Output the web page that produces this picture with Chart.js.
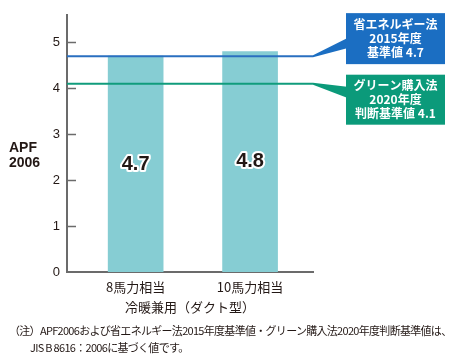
<!DOCTYPE html>
<html>
<head>
<meta charset="utf-8">
<script src="https://cdn.jsdelivr.net/npm/chart.js@4"></script>
<style>
  body { margin: 0; background: #fff; }
  #wrap { position: relative; width: 453px; height: 362px; font-family: "Liberation Sans", "Noto Sans CJK JP", sans-serif; color: #231815; }
  #chart { position: absolute; left: 0; top: 0; }
  #ylabel { position: absolute; left: 9px; top: 140px; font-size: 14px; font-weight: bold; line-height: 15px; }
  .note { position: absolute; font-size: 11px; white-space: nowrap; letter-spacing: -0.7px; font-family: "Noto Sans CJK JP", sans-serif; }
</style>
</head>
<body>
<div id="wrap">
  <canvas id="chart" width="453" height="362"></canvas>
  <div id="ylabel">APF<br>2006</div>
  <div class="note" style="left:9px; top:322px;">（注）APF2006および省エネルギー法2015年度基準値・グリーン購入法2020年度判断基準値は、</div>
  <div class="note" style="left:30px; top:339px;">JIS B 8616：2006に基づく値です。</div>
</div>
<script>
const categories = ['8馬力相当', '10馬力相当'];
const categoryPos = [1, 2];
const apfValues = [4.7, 4.8];
const yTicks = [0, 1, 2, 3, 4, 5];
const refNames = [['省エネルギー法', '2015年度', '基準値 4.7'], ['グリーン購入法', '2020年度', '判断基準値 4.1']];
const refValues = [4.7, 4.1];

const axisColor = '#6b6b6b';
const refColors = ['#2a6fc0', '#109c7c'];
const boxColors = ['#1b6ec2', '#0b9a7a'];
// box offsets from the line (top, bottom) and wedge ends at box edge
const boxOffsets = [[-43, 8], [-9, 41]];
const wedgeOffsets = [[-18, -8], [3, 14]];

const overlay = {
  id: 'overlay',
  afterDatasetsDraw(chart) {
    const ctx = chart.ctx;
    const y = chart.scales.y;
    const area = chart.chartArea;

    // tick marks inside the axis
    ctx.save();
    ctx.strokeStyle = axisColor;
    ctx.lineWidth = 1.5;
    yTicks.forEach(t => {
      if (t === 0) return;
      const py = Math.round(y.getPixelForValue(t)) + 0.5;
      ctx.beginPath();
      ctx.moveTo(area.left, py);
      ctx.lineTo(area.left + 9, py);
      ctx.stroke();
    });

    // bar value labels
    const meta = chart.getDatasetMeta(0);
    ctx.font = 'bold 20px "Liberation Sans", sans-serif';
    ctx.textAlign = 'center';
    ctx.textBaseline = 'middle';
    ctx.lineJoin = 'round';
    meta.data.forEach((bar, i) => {
      const cy = (bar.y + bar.base) / 2;
      const txt = apfValues[i].toFixed(1);
      ctx.lineWidth = 4;
      ctx.strokeStyle = '#ffffff';
      ctx.strokeText(txt, bar.x, cy);
      ctx.fillStyle = '#231815';
      ctx.fillText(txt, bar.x, cy);
    });

    // reference lines with callouts
    const boxLeft = 346, boxRight = 445;
    refValues.forEach((v, i) => {
      const py = y.getPixelForValue(v);
      ctx.strokeStyle = refColors[i];
      ctx.lineWidth = 2;
      ctx.beginPath();
      ctx.moveTo(area.left, py);
      ctx.lineTo(area.right, py);
      ctx.stroke();

      ctx.fillStyle = boxColors[i];
      ctx.beginPath();
      ctx.moveTo(area.right, py - 1);
      ctx.lineTo(boxLeft + 1, py + wedgeOffsets[i][0]);
      ctx.lineTo(boxLeft + 1, py + wedgeOffsets[i][1]);
      ctx.lineTo(area.right, py + 1);
      ctx.closePath();
      ctx.fill();

      const top = py + boxOffsets[i][0];
      const bottom = py + boxOffsets[i][1];
      ctx.fillRect(boxLeft, top, boxRight - boxLeft, bottom - top);

      ctx.fillStyle = '#ffffff';
      ctx.font = 'bold 12px "Noto Sans CJK JP", sans-serif';
      const cx = (boxLeft + boxRight) / 2;
      const cy = (top + bottom) / 2;
      refNames[i].forEach((line, k) => {
        ctx.fillText(line, cx, cy + (k - 1) * 14);
      });
    });
    ctx.restore();
  }
};

new Chart(document.getElementById('chart'), {
  type: 'bar',
  data: {
    datasets: [{
      data: categoryPos.map((x, i) => ({ x: x, y: apfValues[i] })),
      backgroundColor: '#86cdd3',
      barThickness: 55
    }]
  },
  options: {
    responsive: false,
    animation: false,
    layout: { padding: { left: 0, right: 140, top: 13, bottom: 47 } },
    plugins: { legend: { display: false }, tooltip: { enabled: false } },
    scales: {
      x: {
        type: 'linear',
        min: 0.4,
        max: 2.55,
        offset: false,
        afterBuildTicks: s => { s.ticks = categoryPos.map(v => ({ value: v })); },
        afterFit: s => { s.height = 43; },
        grid: { display: false, drawTicks: false, offset: false },
        border: { display: true, color: axisColor, width: 2 },
        ticks: {
          autoSkip: false,
          maxRotation: 0,
          padding: 7,
          color: '#231815',
          font: { size: 13, family: '"Noto Sans CJK JP", sans-serif' },
          callback: v => categories[categoryPos.indexOf(v)]
        },
        title: {
          display: true,
          text: '冷暖兼用（ダクト型）',
          color: '#231815',
          padding: 0,
          font: { size: 13, family: '"Noto Sans CJK JP", sans-serif' }
        }
      },
      y: {
        min: 0,
        max: 5.6,
        afterBuildTicks: s => { s.ticks = yTicks.map(v => ({ value: v })); },
        afterFit: s => { s.width = 67; },
        grid: { display: false, drawTicks: false },
        border: { display: true, color: axisColor, width: 2 },
        ticks: {
          padding: 7,
          color: '#231815',
          font: { size: 13, family: '"Liberation Sans", sans-serif' }
        }
      }
    }
  },
  plugins: [overlay]
});
</script>
</body>
</html>
